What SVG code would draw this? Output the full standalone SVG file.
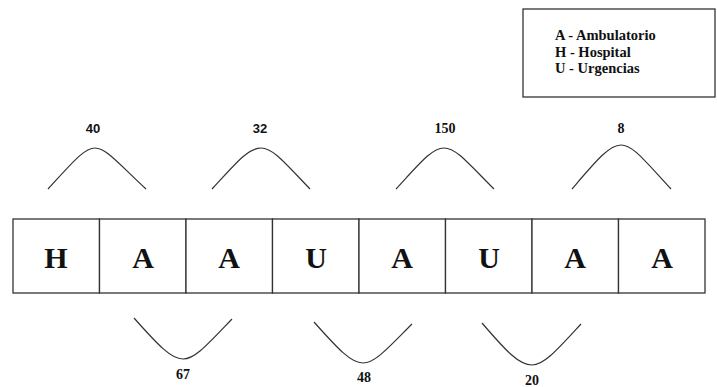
<svg xmlns="http://www.w3.org/2000/svg" width="717" height="387" viewBox="0 0 717 387">
<style>
.cell{fill:#fff;stroke:#333;stroke-width:1.3}
.let{font-family:"Liberation Serif",serif;font-weight:bold;font-size:30px;text-anchor:middle;fill:#111}
.arc{fill:none;stroke:#333;stroke-width:1.2}
.num{font-family:"Liberation Serif",serif;font-weight:bold;font-size:14px;text-anchor:middle;fill:#111}
.nums{font-family:"Liberation Sans",sans-serif;font-weight:bold;font-size:13px;text-anchor:middle;fill:#111}
.leg{font-family:"Liberation Serif",serif;font-weight:bold;font-size:14.5px;fill:#111}
</style>
<rect width="717" height="387" fill="#fff"/>
<g id="legend">
<rect x="523" y="9" width="192" height="88" class="cell"/>
<text x="555" y="40" class="leg">A - Ambulatorio</text>
<text x="555" y="57" class="leg">H - Hospital</text>
<text x="555" y="73" class="leg">U - Urgencias</text>
</g>
<g id="n1"><rect x="13" y="219" width="86.5" height="74" class="cell"/><text x="56" y="268" class="let">H</text></g>
<g id="n2"><rect x="99.5" y="219" width="86.5" height="74" class="cell"/><text x="143" y="268" class="let">A</text></g>
<g id="n3"><rect x="186" y="219" width="86.5" height="74" class="cell"/><text x="229" y="268" class="let">A</text></g>
<g id="n4"><rect x="272.5" y="219" width="86.5" height="74" class="cell"/><text x="316" y="268" class="let">U</text></g>
<g id="n5"><rect x="359" y="219" width="86.5" height="74" class="cell"/><text x="402" y="268" class="let">A</text></g>
<g id="n6"><rect x="445.5" y="219" width="86.5" height="74" class="cell"/><text x="489" y="268" class="let">U</text></g>
<g id="n7"><rect x="532" y="219" width="86.5" height="74" class="cell"/><text x="575" y="268" class="let">A</text></g>
<g id="n8"><rect x="618.5" y="219" width="86.5" height="74" class="cell"/><text x="662" y="268" class="let">A</text></g>
<g id="connectors">
<path class="arc" d="M48,189 C72,163 84,148 95,148 C106,148 118,163 146,189"/>
<path class="arc" d="M212,189 C236,163 248,148 261,148 C273,148 285,163 310,189"/>
<path class="arc" d="M396,189 C420,163 432,148 444,148 C456,148 468,163 494,189"/>
<path class="arc" d="M572,189 C596,161 609,145 621,145 C633,145 645,161 671,189"/>
<path class="arc" d="M134,318 C158,345 171,359 183,359 C195,359 207,345 232,319"/>
<path class="arc" d="M314,322 C338,349 351,363 363,363 C375,363 387,349 412,324"/>
<path class="arc" d="M482,323 C506,351 519,365 532,365 C544,365 556,351 581,324"/>
<text x="93" y="133" class="nums">40</text>
<text x="260" y="133" class="nums">32</text>
<text x="445" y="133" class="num">150</text>
<text x="621" y="133" class="num">8</text>
<text x="183" y="379" class="num">67</text>
<text x="364" y="382" class="num">48</text>
<text x="532" y="385" class="num">20</text>
</g>
</svg>
